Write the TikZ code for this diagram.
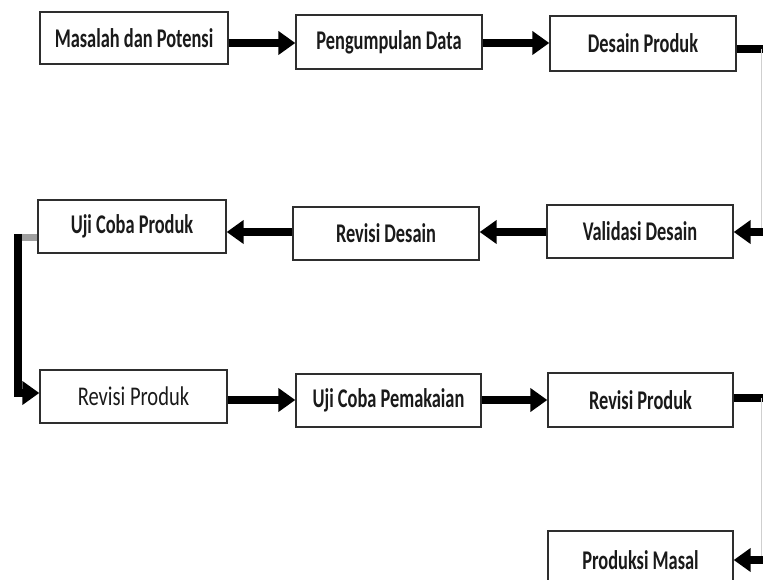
\documentclass[tikz,border=0pt]{standalone}
\usepackage{fontspec}
\newfontfamily\boxfont{Carlito}[FakeStretch=0.68]
\newfontfamily\wideboxfont{Carlito}[FakeStretch=0.76]
\usetikzlibrary{arrows.meta}
\definecolor{ink}{HTML}{1A1A1A}
\definecolor{frame}{HTML}{2E2E2E}
\definecolor{faint}{HTML}{CFCFCF}
\definecolor{stubgrey}{HTML}{A0A0A0}

\begin{document}
\begin{tikzpicture}[x=1pt,y=-1pt,
  stepbox/.style={draw=frame, line width=1.4pt, fill=white, inner sep=0pt,
    minimum width=186pt, minimum height=53pt, text=ink,
    font=\boxfont\fontsize{27}{30}\selectfont\bfseries},
  flow/.style={line width=8pt, black, -{Triangle[length=17pt,width=23pt]}},
  stub/.style={line width=8pt, black},
  guide/.style={line width=1pt, faint},
  greystub/.style={line width=7pt, stubgrey}
]
\clip (0,0) rectangle (763,580);
\fill[white] (0,0) rectangle (763,580);

% row 1
\node[stepbox, minimum width=188pt, minimum height=52pt] (mp) at (134,38) {Masalah dan Potensi};
\node[stepbox, minimum height=54pt] (pd) at (389,42) {Pengumpulan Data};
\node[stepbox, minimum height=55pt] (dp) at (643,43.5) {Desain Produk};

% row 2
\node[stepbox, minimum width=188pt] (uc) at (132,226.5) {Uji Coba Produk};
\node[stepbox] (rd) at (386,233.5) {Revisi Desain};
\node[stepbox] (vd) at (640,231.5) {Validasi Desain};

% row 3
\node[stepbox, minimum width=187pt, font=\wideboxfont\fontsize{27}{30}\selectfont] (rpa) at (133.5,396.5) {Revisi Produk};
\node[stepbox, minimum width=185pt] (ucp) at (388.5,400.5) {Uji Coba Pemakaian};
\node[stepbox, minimum width=185pt, minimum height=54pt] (rpb) at (640.5,400) {Revisi Produk};

% row 4
\node[stepbox, minimum width=185pt, minimum height=58pt] (pm) at (640.5,560) {Produksi Masal};

% right-hand return path points
\coordinate (ra) at (768,49);
\coordinate (rb) at (768,232);
\coordinate (rc) at (768,398);
\coordinate (rd2) at (768,560);
\coordinate (ga) at (761,49);
\coordinate (gb) at (761,232);
\coordinate (gc) at (761,398);
\coordinate (gd) at (761,560);
% left-hand return path point
\coordinate (lw) at (18,234);

% row 1 arrows
\draw[flow] ([yshift=-5pt]mp.east) -- ([yshift=-5pt]mp.east -| pd.west);
\draw[flow] ([yshift=-1pt]pd.east) -- ([yshift=-1pt]pd.east -| dp.west);

% down the right side to row 2
\draw[stub] (ra -| dp.east) -- (ra);
\draw[guide] (ga) -- (gb);
\draw[flow] (rb) -- (rb -| vd.east);

% row 2 arrows
\draw[flow] ([yshift=-0.5pt]vd.west) -- ([yshift=-0.5pt]vd.west -| rd.east);
\draw[flow] ([yshift=1.5pt]rd.west) -- ([yshift=1.5pt]rd.west -| uc.east);

% down the left side to row 3
\draw[greystub] ([yshift=-11pt]uc.west) -- ([yshift=-11pt]uc.west -| 14,0);
\draw[flow] (lw) |- ([yshift=3.5pt]rpa.west);

% row 3 arrows
\draw[flow] ([yshift=-3.5pt]rpa.east) -- ([yshift=-3.5pt]rpa.east -| ucp.west);
\draw[flow] ([yshift=0.5pt]ucp.east) -- ([yshift=0.5pt]ucp.east -| rpb.west);

% down the right side to row 4
\draw[stub] (rc -| rpb.east) -- (rc);
\draw[guide] (gc) -- (gd);
\draw[flow] (rd2) -- (rd2 -| pm.east);
\end{tikzpicture}
\end{document}
